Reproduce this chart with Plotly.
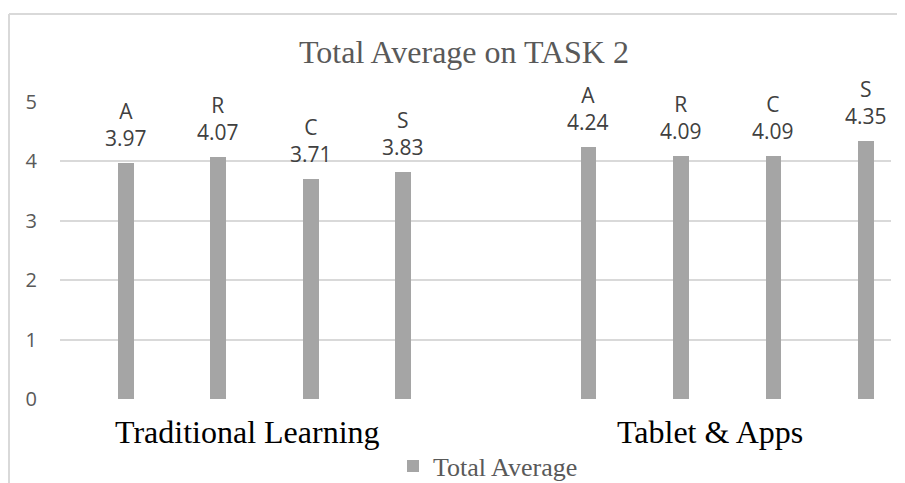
import plotly.graph_objects as go

# ---- data ----
groups = ["Traditional Learning", "Tablet & Apps"]
letters = ["A", "R", "C", "S"]
traditional_values = [3.97, 4.07, 3.71, 3.83]
tablet_values = [4.24, 4.09, 4.09, 4.35]
series_name = "Total Average"
title_text = "Total Average on TASK 2"
y_ticks = [0, 1, 2, 3, 4, 5]

group_values = [traditional_values, tablet_values]
GROUP_STEP = 5  # slots between the first bars of the two groups

xs, ys, labels = [], [], []
for g, vals in enumerate(group_values):
    for i, v in enumerate(vals):
        xs.append(g * GROUP_STEP + i)
        ys.append(v)
        labels.append(f"{letters[i]}<br>{v:.2f}")

BAR = "#a5a5a5"
GRID = "#d9d9d9"

# page body has an 8px margin; compensate
OFF = 8
W, H = 905 - OFF, 483 - OFF
L, T = 60 - OFF, 102 - OFF
R = W - (891 - OFF)
B = H - (399 - OFF)
pw, ph = W - L - R, H - T - B

def px_x(px):
    return (px - OFF - L) / pw

def px_y(py):
    return 1 - (py - OFF - T) / ph

fig = go.Figure()
fig.add_trace(go.Bar(
    x=xs, y=ys, name=series_name, width=0.17,
    marker=dict(color=BAR, line=dict(width=0)),
    showlegend=True, hoverinfo="skip",
))

annotations = []
for x, y, t in zip(xs, ys, labels):
    annotations.append(dict(
        x=x, y=y, xref="x", yref="y", text=t, showarrow=False,
        yanchor="bottom", xanchor="center", yshift=9,
        font=dict(family="Open Sans", size=21, color="#404040"),
    ))

for g, name in enumerate(groups):
    centre = g * GROUP_STEP + (len(letters) - 1) / 2
    annotations.append(dict(
        x=centre, y=0, xref="x", yref="y", text=name, showarrow=False,
        yanchor="middle", xanchor="center", yshift=-33, xshift=-17,
        font=dict(family="Liberation Serif", size=32, color="#000000"),
    ))

border_x = px_x(9)
border_y = px_y(14)

shapes = [
    dict(type="line", xref="paper", yref="paper", x0=border_x, x1=1.2,
         y0=border_y, y1=border_y, line=dict(color=GRID, width=2)),
    dict(type="line", xref="paper", yref="paper", x0=border_x, x1=border_x,
         y0=border_y, y1=-0.5, line=dict(color=GRID, width=2)),
]

fig.update_layout(
    width=W, height=H,
    margin=dict(l=L, r=R, t=T, b=B, pad=0, autoexpand=False),
    paper_bgcolor="white", plot_bgcolor="white",
    title=dict(text=title_text, x=px_x(464), xref="paper",
               y=1 - (52 - OFF) / H, yref="container", xanchor="center", yanchor="middle",
               font=dict(family="Liberation Serif", size=32, color="#595959")),
    xaxis=dict(range=[-0.71, 8.27], showticklabels=False, showgrid=False,
               zeroline=False, showline=False, ticks=""),
    yaxis=dict(range=[0, 5], tickvals=y_ticks, showgrid=True, gridcolor=GRID,
               gridwidth=2, zeroline=False, showline=False, ticks="",
               ticklabelstandoff=22,
               tickfont=dict(family="Open Sans", size=20, color="#595959")),
    legend=dict(orientation="h", x=px_x(488), xanchor="center",
                y=px_y(466), yanchor="middle",
                font=dict(family="Liberation Serif", size=26, color="#595959"),
                itemwidth=30, bgcolor="rgba(0,0,0,0)"),
    annotations=annotations,
    shapes=shapes,
    bargap=0,
)

fig.write_html("out.html")
